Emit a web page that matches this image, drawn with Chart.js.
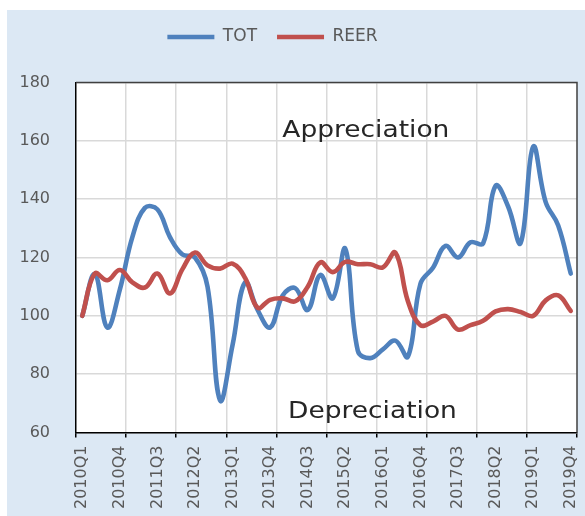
<!DOCTYPE html>
<html>
<head>
<meta charset="utf-8">
<title>TOT and REER</title>
<script src="https://cdn.jsdelivr.net/npm/chart.js@4.4.1/dist/chart.umd.min.js"></script>
<style>
  html, body { margin: 0; padding: 0; background: #ffffff; }
  #wrap { width: 585px; height: 516px; }
  canvas { display: block; }
</style>
</head>
<body>
<div id="wrap"><canvas id="chart" width="585" height="516"></canvas></div>
<script>
// Quarterly categories, 2010Q1 .. 2019Q4
const categories = [
  '2010Q1','2010Q2','2010Q3','2010Q4',
  '2011Q1','2011Q2','2011Q3','2011Q4',
  '2012Q1','2012Q2','2012Q3','2012Q4',
  '2013Q1','2013Q2','2013Q3','2013Q4',
  '2014Q1','2014Q2','2014Q3','2014Q4',
  '2015Q1','2015Q2','2015Q3','2015Q4',
  '2016Q1','2016Q2','2016Q3','2016Q4',
  '2017Q1','2017Q2','2017Q3','2017Q4',
  '2018Q1','2018Q2','2018Q3','2018Q4',
  '2019Q1','2019Q2','2019Q3','2019Q4'
];

// Terms of trade index
const tot = [
  100, 114.3, 96, 109, 127, 137, 136.5, 127, 121, 120,
  110, 71, 90, 111.5, 102, 96, 107, 109.5, 102, 114,
  106, 123, 88, 85.5, 88.5, 91.5, 86, 111, 116.5, 124,
  120, 125.2, 124.8, 144.6, 137.5, 125, 158, 139, 131, 114.5
];

// Real effective exchange rate index
const reer = [
  100, 114.5, 112.2, 115.7, 111.5, 109.7, 114.5, 107.7, 116, 121.7,
  117.3, 116.2, 117.9, 113, 102.8, 105.5, 106, 105, 110, 118.3,
  115, 118.5, 117.7, 117.7, 116.6, 121.7, 105, 96.8, 98, 100,
  95.3, 96.8, 98.3, 101.5, 102.3, 101.3, 100, 105.3, 107, 101.7
];

// Value axis ticks
const yTicks = [60, 80, 100, 120, 140, 160, 180];

// Text notes inside the plot
const notes = ['Appreciation', 'Depreciation'];

const labelEvery = 3;  // a category label every third quarter
const gridEvery = 4;   // one vertical gridline per year

const FONT = 'DejaVu Sans';
const TEXT_GREY = '#595959';
const GRID_GREY = '#d9d9d9';
const CLEAR = 'rgba(0,0,0,0)';

const chrome = {
  id: 'chrome',
  beforeLayout(chart) {
    // give the legend band a fixed height so the plot starts below it
    const lg = chart.legend;
    if (lg && !lg._fixedFit) {
      const fit = lg.fit;
      lg.fit = function () { fit.call(this); this.height = 74; };
      lg._fixedFit = true;
    }
  },
  afterLayout(chart) {
    // nudge the legend a little left of centre
    const lg = chart.legend;
    if (lg) { lg.left -= 16; lg.right -= 16; }
  },
  beforeDraw(chart) {
    const { ctx, chartArea: a, width, height } = chart;
    ctx.save();
    ctx.fillStyle = '#ffffff';
    ctx.fillRect(0, 0, width, height);
    ctx.fillStyle = '#dce8f4';
    ctx.fillRect(7, 10, width - 7, height - 10);
    ctx.fillStyle = '#ffffff';
    ctx.fillRect(a.left, a.top, a.right - a.left, a.bottom - a.top);
    ctx.restore();
  },
  afterDatasetsDraw(chart) {
    // top and right edges of the plot frame
    const { ctx, chartArea: a } = chart;
    ctx.save();
    ctx.strokeStyle = '#404040';
    ctx.lineWidth = 1.5;
    ctx.beginPath();
    ctx.moveTo(a.left, a.top);
    ctx.lineTo(a.right, a.top);
    ctx.lineTo(a.right, a.bottom);
    ctx.stroke();
    ctx.restore();
  },
  afterDraw(chart) {
    const { ctx, scales: { x, y } } = chart;
    const put = (text, xv, yv) => {
      ctx.save();
      ctx.translate(x.getPixelForValue(xv), y.getPixelForValue(yv));
      ctx.scale(1.15, 1);   // wide lettering
      ctx.font = '23px "' + FONT + '"';
      ctx.fillStyle = '#262626';
      ctx.textAlign = 'center';
      ctx.textBaseline = 'alphabetic';
      ctx.fillText(text, 0, 0);
      ctx.restore();
    };
    put(notes[0], 22.64, 161.2);
    put(notes[1], 23.17, 64.9);
  }
};

const lineStyle = {
  borderWidth: 4.6,
  pointRadius: 0,
  pointHoverRadius: 0,
  tension: 0.4,
  fill: false,
  borderCapStyle: 'round',
  borderJoinStyle: 'round'
};

new Chart(document.getElementById('chart'), {
  type: 'line',
  data: {
    labels: categories,
    datasets: [
      Object.assign({ label: 'TOT', data: tot, borderColor: '#4f81bd', backgroundColor: '#4f81bd', order: 1 }, lineStyle),
      Object.assign({ label: 'REER', data: reer, borderColor: '#c0504d', backgroundColor: '#c0504d', order: 0 }, lineStyle)
    ]
  },
  options: {
    responsive: false,
    animation: false,
    events: [],
    layout: { padding: { top: 8.5, right: 8, bottom: 0, left: 0 } },
    plugins: {
      tooltip: { enabled: false },
      title: { display: false },
      legend: {
        position: 'top',
        labels: {
          usePointStyle: true,
          pointStyle: 'line',
          pointStyleWidth: 47,
          padding: 20,
          color: TEXT_GREY,
          font: { family: FONT, size: 17 },
          sort: (a, b) => a.datasetIndex - b.datasetIndex
        }
      }
    },
    scales: {
      x: {
        type: 'category',
        offset: true,
        afterFit(scale) {
          scale.height = 83.5;
          scale.paddingLeft = 0;
          scale.paddingRight = 0;
        },
        grid: {
          offset: true,
          lineWidth: 1.5,
          tickLength: 5,
          tickWidth: 1.5,
          color: ctx => (ctx.type === 'tick' && ctx.index > 0 && ctx.index % gridEvery === 0) ? GRID_GREY : CLEAR,
          tickColor: ctx => (ctx.type !== 'tick' || ctx.index % gridEvery === 0) ? '#000000' : CLEAR
        },
        border: { color: '#000000', width: 1.5 },
        ticks: {
          autoSkip: false,
          minRotation: 90,
          maxRotation: 90,
          padding: 8,
          color: TEXT_GREY,
          font: { family: FONT, size: 16 },
          callback(value, index) {
            return index % labelEvery === 0 ? this.getLabelForValue(value) : '';
          }
        }
      },
      y: {
        min: yTicks[0],
        max: yTicks[yTicks.length - 1],
        afterFit(scale) { scale.width = 76; },
        afterBuildTicks(scale) { scale.ticks = yTicks.map(v => ({ value: v })); },
        grid: { color: GRID_GREY, lineWidth: 1.5, drawTicks: false },
        border: { color: '#000000', width: 1.5 },
        ticks: {
          padding: 26,
          color: TEXT_GREY,
          font: { family: FONT, size: 16 }
        }
      }
    }
  },
  plugins: [chrome]
});
</script>
</body>
</html>
